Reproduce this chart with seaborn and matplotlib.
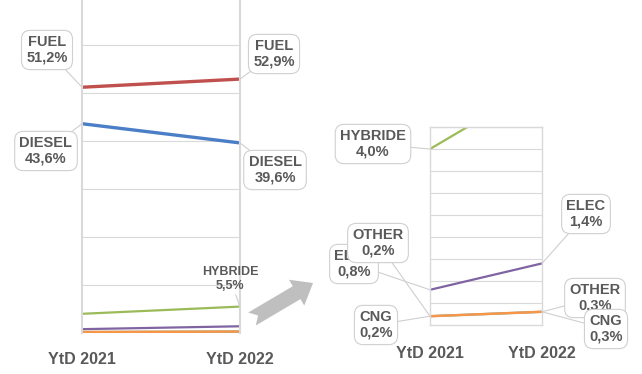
import numpy as np
import pandas as pd
import matplotlib.pyplot as plt
import seaborn as sns
from matplotlib.patches import Polygon

# data
periods = ['YtD 2021', 'YtD 2022']
fuel_types = ['FUEL', 'DIESEL', 'HYBRIDE', 'ELEC', 'OTHER', 'CNG']
fuel = [51.2, 52.9]
diesel = [43.6, 39.6]
hybride = [4.0, 5.5]
elec = [0.8, 1.4]
other = [0.2, 0.3]
cng = [0.2, 0.3]

colors = {'FUEL': '#C0504D', 'DIESEL': '#4A7EC6', 'HYBRIDE': '#9BBB59',
          'ELEC': '#8064A2', 'OTHER': '#4BACC6', 'CNG': '#F79646'}
widths = {'FUEL': 2.4, 'DIESEL': 2.4, 'HYBRIDE': 1.6, 'ELEC': 1.6, 'OTHER': 1.6, 'CNG': 1.8}

df = pd.DataFrame({
    'period': periods * len(fuel_types),
    'type': np.repeat(fuel_types, len(periods)),
    'share': fuel + diesel + hybride + elec + other + cng,
})
df['x'] = df['period'].map({p: i for i, p in enumerate(periods)})

TXT = '#595959'
GRID = '#D9D9D9'
W, H = 642, 374

sns.set_theme(style='white')
plt.rcParams['font.family'] = ['Liberation Sans', 'DejaVu Sans']

fig = plt.figure(figsize=(W / 100, H / 100), dpi=100)

# axes in pixel layout: (left, right, y of top value, y of zero)
def make_ax(x0, x1, ytop, ybot):
    return fig.add_axes([x0 / W, (H - ybot) / H, (x1 - x0) / W, (ybot - ytop) / H])

ax1 = make_ax(82, 240, -3, 333)
ax2 = make_ax(430, 542, 127, 325)


def draw(ax, ymax, step):
    for t in fuel_types:
        sub = df[df['type'] == t]
        sns.lineplot(data=sub, x='x', y='share', color=colors[t], lw=widths[t],
                     ax=ax, legend=False, solid_capstyle='butt', clip_on=True)
    ax.set_xlim(0, 1)
    ax.set_ylim(0, ymax)
    ax.set_yticks(np.arange(step, ymax + step / 2, step))
    ax.yaxis.grid(True, color=GRID, lw=0.8)
    ax.set_axisbelow(True)
    ax.set_xticks([0, 1])
    ax.set_xticklabels(periods)
    ax.tick_params(axis='x', length=0, labelsize=11.5, labelcolor=TXT)
    for lab in ax.get_xticklabels():
        lab.set_fontweight('bold')
    ax.tick_params(axis='y', left=False, labelleft=False)
    ax.set_xlabel('')
    ax.set_ylabel('')
    ax.set_facecolor('none')


draw(ax1, 70, 10)
for s in ['top', 'bottom']:
    ax1.spines[s].set_visible(False)
for s in ['left', 'right']:
    ax1.spines[s].set_color(GRID)
    ax1.spines[s].set_linewidth(1.5)
ax1.tick_params(axis='x', pad=14)

draw(ax2, 4.5, 0.5)
for s in ax2.spines.values():
    s.set_color(GRID)
    s.set_linewidth(1.0)
ax2.tick_params(axis='x', pad=15)

box = dict(boxstyle='round,pad=0.33,rounding_size=0.6', fc='white', ec='#D0D0D0', lw=0.8)
leader = dict(arrowstyle='-', color='#CFCFCF', lw=0.8, shrinkA=0, shrinkB=0)


def label(ax, name, values, idx, pos, framed=True, size=10.5):
    val = values[idx]
    txt = f'{name}\n{val:.1f}%'.replace('.', ',')
    ax.annotate(txt, xy=(idx, val), xycoords='data',
                xytext=(pos[0], H - pos[1]), textcoords='figure pixels',
                ha='center', va='center', fontsize=size, fontweight='bold',
                color=TXT, linespacing=1.15,
                bbox=box if framed else None, arrowprops=leader,
                annotation_clip=False, zorder=5)


# left chart callouts (pixel centres)
label(ax1, 'FUEL', fuel, 0, (47, 50))
label(ax1, 'FUEL', fuel, 1, (274, 54))
label(ax1, 'DIESEL', diesel, 0, (46, 151))
label(ax1, 'DIESEL', diesel, 1, (275, 170))
label(ax1, 'HYBRIDE', hybride, 1, (230, 279), framed=False, size=9)

# right chart callouts
label(ax2, 'HYBRIDE', hybride, 0, (373, 144))
label(ax2, 'ELEC', elec, 1, (586, 214))
label(ax2, 'OTHER', other, 1, (595, 298))
label(ax2, 'CNG', cng, 1, (606, 329))
label(ax2, 'ELEC', elec, 0, (354, 264))
label(ax2, 'OTHER', other, 0, (378, 243))
label(ax2, 'CNG', cng, 0, (376, 325))

# grey block arrow between the charts
tail = np.array([252.0, 319.0])
tip = np.array([313.0, 283.0])
d = (tip - tail) / np.linalg.norm(tip - tail)
n = np.array([-d[1], d[0]])
hl, hw, sw, notch = 19, 15, 7.5, 7
base = tip - d * hl
pts = [tail + n * sw, base + n * sw, base + n * hw, tip,
       base - n * hw, base - n * sw, tail - n * sw, tail + d * notch]
pts = [(p[0] / W, (H - p[1]) / H) for p in pts]
fig.add_artist(Polygon(pts, closed=True, transform=fig.transFigure,
                       fc='#BFBFBF', ec='none'))

fig.savefig('out.png', dpi=100)
